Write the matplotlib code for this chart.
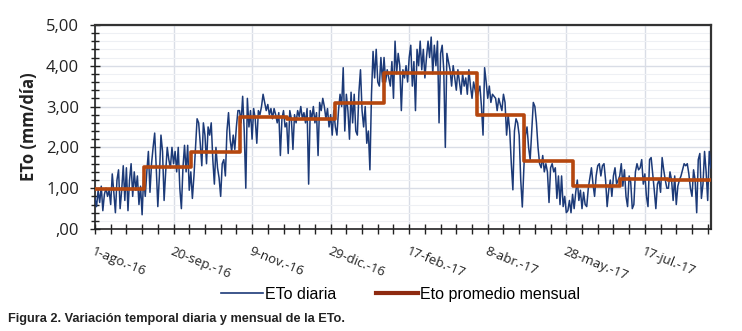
import matplotlib
matplotlib.use("Agg")
import matplotlib.pyplot as plt
import matplotlib.dates as mdates
from matplotlib.ticker import MultipleLocator, FixedLocator, FixedFormatter
from matplotlib.lines import Line2D
import numpy as np
import pandas as pd

# ---------------- data ----------------
start_date = "2016-08-01"

eto_aug16 = [0.75, 0.55, 0.95, 0.65, 1.05, 0.45, 0.85, 1.0, 0.8, 0.95, 0.6, 1.35, 0.9, 0.4, 1.2, 1.45,
             0.5, 0.95, 1.55, 0.7, 1.5, 0.45, 1.2, 1.6, 0.8, 1.4, 0.95, 1.3, 0.6, 1.05, 0.35]
eto_sep16 = [1.3, 0.8, 1.4, 1.9, 0.9, 1.6, 2.0, 2.35, 1.5, 0.55, 1.3, 2.3, 1.9, 0.7, 1.4, 2.0,
             1.7, 1.5, 2.0, 1.6, 1.9, 1.4, 2.0, 1.0, 0.5, 1.5, 2.05, 1.4, 2.05, 0.95]
eto_oct16 = [1.4, 0.75, 1.3, 2.0, 2.7, 2.6, 2.1, 1.55, 2.6, 2.3, 1.6, 2.5, 2.3, 2.6, 1.7, 1.1,
             2.0, 1.5, 1.25, 0.8, 1.6, 1.7, 1.3, 2.4, 2.85, 2.2, 1.9, 2.3, 1.95, 2.5, 2.9]
eto_nov16 = [2.9, 2.6, 3.25, 2.4, 1.0, 3.2, 2.5, 2.9, 2.2, 2.95, 2.7, 2.1, 2.9, 2.8, 3.0, 3.3,
             3.1, 2.9, 3.05, 2.8, 2.95, 2.7, 2.95, 2.8, 2.6, 2.85, 1.8, 2.7, 2.9, 2.5]
eto_dec16 = [2.6, 1.85, 2.9, 2.7, 1.95, 2.8, 2.6, 2.9, 2.75, 3.0, 2.7, 2.85, 2.6, 2.95, 1.1, 2.9,
             2.7, 3.0, 2.6, 2.85, 1.8, 3.1, 2.9, 3.2, 3.0, 2.7, 2.95, 2.5, 2.8, 2.3, 2.9]
eto_jan17 = [2.5, 2.3, 2.9, 3.3, 3.0, 3.95, 2.4, 3.3, 2.9, 2.2, 3.35, 2.6, 3.3, 2.4, 2.3, 3.35,
             3.9, 2.9, 2.5, 3.0, 2.1, 2.4, 1.45, 3.3, 4.35, 3.7, 4.4, 3.6, 3.5, 4.2, 3.6]
eto_feb17 = [4.2, 3.6, 3.9, 3.7, 3.5, 4.1, 3.2, 4.6, 3.8, 4.3, 4.0, 2.9, 3.9, 3.7, 4.0, 3.6,
             4.2, 4.5, 3.5, 4.1, 2.9, 4.4, 4.0, 4.6, 3.9, 4.4, 3.7, 4.2]
eto_mar17 = [4.6, 4.2, 4.7, 3.8, 4.5, 4.0, 4.6, 2.6, 4.3, 4.5, 3.9, 2.0, 4.3, 4.1, 3.9, 3.5,
             4.0, 3.7, 3.4, 3.9, 3.6, 3.3, 3.8, 3.5, 3.7, 3.3, 3.9, 3.5, 3.2, 3.6, 3.4]
eto_apr17 = [3.2, 3.36, 3.5, 3.0, 2.3, 3.95, 3.6, 3.2, 3.5, 3.1, 3.3, 3.25, 3.2, 2.9, 3.2, 3.05,
             2.9, 3.3, 3.1, 2.3, 2.8, 2.4, 1.6, 0.96, 2.4, 2.7, 2.6, 2.3, 1.2, 0.54]
eto_may17 = [1.5, 2.3, 2.5, 2.0, 1.7, 2.4, 3.1, 3.0, 2.6, 2.0, 1.6, 1.5, 1.8, 1.4, 1.6, 1.4,
             0.65, 1.5, 1.6, 1.4, 1.5, 0.75, 1.3, 0.6, 1.3, 0.55, 0.8, 0.4, 0.45, 0.7, 0.4]
eto_jun17 = [0.85, 0.5, 0.9, 1.2, 0.7, 0.95, 0.5, 0.9, 0.6, 0.55, 1.0, 1.25, 1.5, 1.1, 0.8, 1.3,
             1.55, 1.6, 1.3, 1.55, 1.6, 1.2, 0.55, 0.95, 1.2, 0.8, 1.3, 1.5, 1.1, 1.2]
eto_jul17 = [1.3, 1.6, 1.05, 1.45, 0.8, 0.55, 1.3, 1.15, 0.5, 0.6, 1.4, 1.6, 1.45, 1.5, 1.7, 1.1,
             1.35, 0.8, 0.55, 1.7, 1.75, 1.35, 0.95, 0.5, 1.1, 1.2, 0.9, 1.75, 1.45, 1.2, 1.0]
eto_aug17 = [1.0, 1.4, 1.2, 0.7, 1.3, 0.6, 1.05, 1.2, 1.3, 1.45, 1.6, 1.55, 1.6, 1.35, 1.0, 0.8,
             1.45, 1.2, 0.4, 1.7, 1.85, 0.75, 1.1, 1.9, 1.4, 0.7, 1.9, 1.5]

month_starts = ["2016-08-01", "2016-09-01", "2016-10-01", "2016-11-01", "2016-12-01", "2017-01-01",
                "2017-02-01", "2017-03-01", "2017-04-01", "2017-05-01", "2017-06-01", "2017-07-01",
                "2017-08-01"]
eto_monthly = [0.97, 1.51, 1.88, 2.74, 2.69, 3.08, 3.83, 3.83, 2.79, 1.66, 1.06, 1.22, 1.20]

tick_dates = ["2016-08-01", "2016-09-20", "2016-11-09", "2016-12-29",
              "2017-02-17", "2017-04-08", "2017-05-28", "2017-07-17"]
tick_labels = ["1-ago.-16", "20-sep.-16", "9-nov.-16", "29-dic.-16",
               "17-feb.-17", "8-abr.-17", "28-may.-17", "17-jul.-17"]

y_ticks = [0, 1, 2, 3, 4, 5]
y_tick_labels = [",00", "1,00", "2,00", "3,00", "4,00", "5,00"]

# ---------------- build ----------------
daily = (eto_aug16 + eto_sep16 + eto_oct16 + eto_nov16 + eto_dec16 + eto_jan17 + eto_feb17 +
         eto_mar17 + eto_apr17 + eto_may17 + eto_jun17 + eto_jul17 + eto_aug17)
dates = pd.date_range(start_date, periods=len(daily), freq="D")
end_date = dates[-1]

m_dates = list(pd.to_datetime(month_starts)) + [end_date]
m_vals = eto_monthly + [eto_monthly[-1]]

fig = plt.figure(figsize=(7.42, 3.31), dpi=100)
ax = fig.add_axes([0.128, 0.308, 0.830, 0.617])

navy = "#1c3a78"
brown = "#b5470f"

ax.plot(dates, daily, color=navy, lw=1.1, zorder=3)
ax.step(m_dates, m_vals, where="post", color=brown, lw=2.6, zorder=4)

ax.set_xlim(pd.Timestamp(start_date), end_date)
ax.set_ylim(0, 5)

# x ticks
ax.xaxis.set_major_locator(FixedLocator(mdates.date2num(pd.to_datetime(tick_dates))))
ax.xaxis.set_major_formatter(FixedFormatter(tick_labels))
minor_dates = pd.date_range(start_date, end_date, freq="10D")
ax.xaxis.set_minor_locator(FixedLocator(mdates.date2num(minor_dates)))

ax.set_yticks(y_ticks)
ax.set_yticklabels(y_tick_labels)
ax.yaxis.set_minor_locator(MultipleLocator(0.2))

font = "Open Sans"
for lab in ax.get_xticklabels():
    lab.set_rotation(-22)
    lab.set_ha("left")
    lab.set_va("top")
    lab.set_rotation_mode("anchor")
    lab.set_fontsize(9.5)
    lab.set_family(font)
    lab.set_color("#222222")
for lab in ax.get_yticklabels():
    lab.set_fontsize(12)
    lab.set_family(font)
    lab.set_color("#222222")

ax.tick_params(axis="both", which="both", direction="inout", color="#222222")
ax.tick_params(axis="x", which="major", length=7, width=1.0, pad=8)
ax.tick_params(axis="x", which="minor", length=7, width=1.0)
ax.tick_params(axis="y", which="major", length=7, width=1.0, pad=8)
ax.tick_params(axis="y", which="minor", length=6, width=1.0)

ax.grid(True, which="major", axis="both", color="#d9dde6", lw=1.0, zorder=0)
ax.grid(True, which="minor", axis="y", color="#eef0f4", lw=0.8, zorder=0)
ax.grid(False, which="minor", axis="x")

for s in ["left", "bottom"]:
    ax.spines[s].set_color("#222222")
    ax.spines[s].set_linewidth(1.2)
for s in ["top", "right"]:
    ax.spines[s].set_color("#333333")
    ax.spines[s].set_linewidth(1.6)

ax.set_ylabel("ETo (mm/día)", fontsize=12, fontweight="bold", family=font, color="#222222", labelpad=6)

handles = [Line2D([], [], color=navy, lw=1.2), Line2D([], [], color="#8e2a10", lw=3.0)]
fig.legend(handles, ["ETo diaria", "Eto promedio mensual"], loc="center",
           bbox_to_anchor=(0.54, 0.11), ncol=2, frameon=False, handlelength=2.6,
           handletextpad=0.15, columnspacing=2.5,
           prop={"family": ["Liberation Sans", "DejaVu Sans"], "size": 11.5})

fig.text(0.011, 0.028, "Figura 2. Variación temporal diaria y mensual de la ETo.",
         family=["Liberation Sans", "DejaVu Sans"], fontweight="bold", fontsize=9.2,
         color="#222222")

fig.savefig("out.png", dpi=100)
